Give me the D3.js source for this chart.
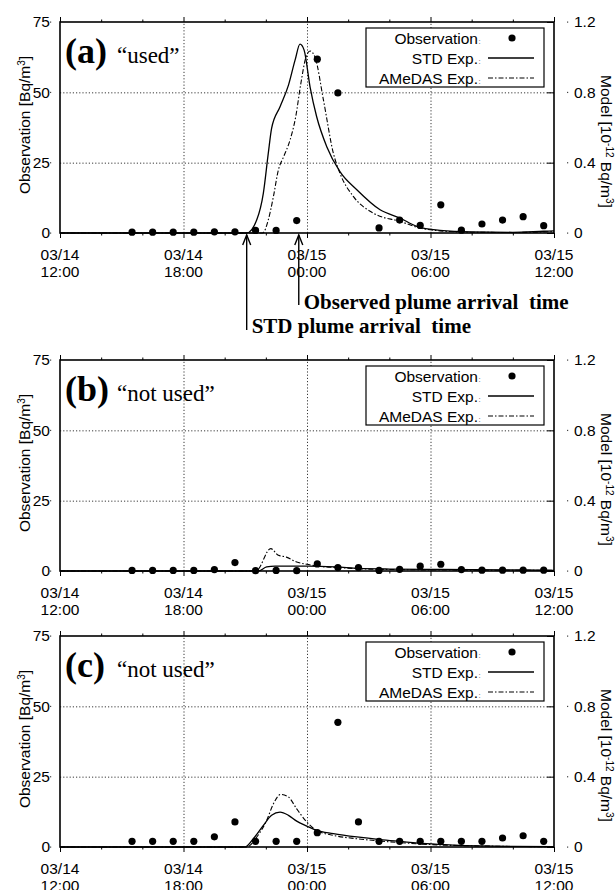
<!DOCTYPE html>
<html>
<head>
<meta charset="utf-8">
<script src="https://cdn.jsdelivr.net/npm/d3@7"></script>
<style>
  body { margin: 0; background: #fff; }
</style>
</head>
<body>
<svg id="chart" width="616" height="890"></svg>
<script>
// hours after 03/14 12:00
var obsHours = [3.5, 4.5, 5.5, 6.5, 7.5, 8.5, 9.5, 10.5, 11.5, 12.5, 13.5, 14.5, 15.5, 16.5, 17.5, 18.5, 19.5, 20.5, 21.5, 22.5, 23.5];

// observations [Bq/m3], null = missing
var obsA = [0.3, 0.3, 0.3, 0.3, 0.4, 0.4, 0.9, 0.9, 4.4, 61.8, 49.8, null, 1.8, 4.6, 2.7, 10.0, 1.0, 3.2, 4.6, 5.8, 2.6];
var obsB = [0.2, 0.2, 0.2, 0.2, 0.5, 3.0, 0.1, 0.2, 0.1, 2.5, 1.2, 1.2, 0.2, 0.6, 1.7, 2.4, 0.5, 0.3, 0.3, 0.3, 0.3];
var obsC = [2.0, 2.0, 2.0, 2.0, 3.6, 8.9, 2.0, 2.0, 2.0, 5.1, 44.3, 8.9, 2.0, 2.0, 2.0, 2.0, 2.0, 2.0, 3.2, 4.0, 2.0];

// model [1e-12 Bq/m3] as [hour, value]
var stdA = [[0, 0], [9.07, 0], [9.56, 0.075], [9.88, 0.227], [10.12, 0.454], [10.28, 0.595], [10.69, 0.718], [11.1, 0.841], [11.42, 0.983], [11.66, 1.074], [11.86, 1.04], [12.15, 0.83], [12.47, 0.661], [12.96, 0.491], [13.6, 0.349], [14.42, 0.246], [15.55, 0.132], [16.52, 0.085], [17.33, 0.038], [18.46, 0.015], [20, 0.006], [22, 0.004], [23.5, 0.01], [24, 0.012]];
var amA = [[0, 0], [9.85, 0], [10.12, 0.075], [10.37, 0.208], [10.61, 0.359], [10.85, 0.43], [11.18, 0.53], [11.45, 0.66], [11.7, 0.85], [11.95, 1.0], [12.15, 1.035], [12.39, 1.0], [12.8, 0.756], [13.28, 0.454], [13.6, 0.34], [14.25, 0.208], [15.22, 0.113], [16.52, 0.066], [17.5, 0.028], [18.46, 0.012], [20, 0.004], [22, 0.003], [24, 0.008]];
var stdB = [[0, 0], [9.63, 0], [10.04, 0.023], [10.45, 0.028], [12.1, 0.028], [13.4, 0.023], [14.5, 0.015], [16, 0.011], [18.5, 0.009], [20, 0.008], [24, 0.004]];
var amB = [[0, 0], [9.52, 0], [10.24, 0.127], [10.61, 0.089], [11.0, 0.079], [11.5, 0.051], [11.99, 0.038], [12.63, 0.026], [13.6, 0.019], [14.9, 0.011], [16.5, 0.008], [18, 0.006], [20, 0.005], [24, 0.004]];
var stdC = [[0, 0], [8.99, 0], [9.39, 0.047], [9.88, 0.123], [10.28, 0.18], [10.69, 0.198], [11.1, 0.18], [11.5, 0.147], [11.99, 0.119], [12.47, 0.094], [13.28, 0.076], [14.42, 0.057], [15.55, 0.042], [16.5, 0.032], [17.8, 0.019], [19.1, 0.011], [20.4, 0.006], [22, 0.003], [24, 0.002]];
var amC = [[0, 0], [9.07, 0], [9.56, 0.057], [10.04, 0.151], [10.37, 0.246], [10.72, 0.299], [11.1, 0.284], [11.5, 0.217], [11.99, 0.142], [12.47, 0.094], [13.28, 0.066], [14.42, 0.047], [15.55, 0.034], [16.5, 0.025], [17.8, 0.015], [19.1, 0.009], [20.4, 0.006], [22, 0.003], [24, 0.002]];

var xTickHours = [0, 6, 12, 18, 24];
var xTickDates = ["03/14", "03/14", "03/15", "03/15", "03/15"];
var xTickTimes = ["12:00", "18:00", "00:00", "06:00", "12:00"];
var xMinorHours = [2, 4, 8, 10, 14, 16, 20, 22];
var gridHours = [6, 12, 18];
var obsTicks = [0, 25, 50, 75];
var obsGrid = [25, 50];
var modelTicks = [0, 0.4, 0.8, 1.2];

var panelLetters = ["(a)", "(b)", "(c)"];
var panelNotes = ["\u201cused\u201d", "\u201cnot used\u201d", "\u201cnot used\u201d"];
var legendLabels = ["Observation", "STD Exp.", "AMeDAS Exp."];
var arrivalHours = [9.07, 11.6];
var arrivalLabels = ["STD plume arrival  time", "Observed plume arrival  time"];

var SANS = "Liberation Sans, Arial, Helvetica, sans-serif";
var SERIF = "Liberation Serif, Times New Roman, serif";

var svg = d3.select("#chart");
svg.append("rect").attr("width", 616).attr("height", 890).attr("fill", "#fff");

var left = 60, right = 554, ph = 211;
var tops = [22, 360, 636];

var x = d3.scaleLinear().domain([0, 24]).range([left, right]);

function drawPanel(i, obs, std, am) {
  var top = tops[i], bottom = top + ph;
  var yObs = d3.scaleLinear().domain([0, 75]).range([bottom, top]);
  var yMod = d3.scaleLinear().domain([0, 1.2]).range([bottom, top]);
  var g = svg.append("g");

  // dotted grid
  var gx = g.append("g")
    .attr("transform", "translate(0," + bottom + ")")
    .call(d3.axisBottom(x).tickValues(gridHours).tickSize(-ph).tickFormat(""));
  gx.select(".domain").remove();
  gx.selectAll("line").attr("stroke", "#222").attr("stroke-width", 0.9).attr("stroke-dasharray", "1.2,2");

  var gy = g.append("g")
    .attr("transform", "translate(" + left + ",0)")
    .call(d3.axisLeft(yObs).tickValues(obsGrid).tickSize(-(right - left)).tickFormat(""));
  gy.select(".domain").remove();
  gy.selectAll("line").attr("stroke", "#222").attr("stroke-width", 0.9).attr("stroke-dasharray", "1.2,2");

  // model curves
  var line = d3.line()
    .x(function(d) { return x(d[0]); })
    .y(function(d) { return yMod(d[1]); })
    .curve(d3.curveMonotoneX);

  g.append("path").datum(am)
    .attr("d", line).attr("fill", "none").attr("stroke", "#000")
    .attr("stroke-width", 1.1).attr("stroke-dasharray", "5,2,1.5,2");
  g.append("path").datum(std)
    .attr("d", line).attr("fill", "none").attr("stroke", "#000")
    .attr("stroke-width", 1.3);

  // observations
  var pts = obsHours.map(function(h, j) { return [h, obs[j]]; })
    .filter(function(d) { return d[1] !== null; });
  g.selectAll(".obs").data(pts).enter().append("circle")
    .attr("class", "obs")
    .attr("cx", function(d) { return x(d[0]); })
    .attr("cy", function(d) { return yObs(d[1]); })
    .attr("r", 3.6).attr("fill", "#000");

  // frame
  g.append("rect")
    .attr("x", left).attr("y", top).attr("width", right - left).attr("height", ph)
    .attr("fill", "none").attr("stroke", "#000").attr("stroke-width", 1.6);

  // x ticks, outward
  [[d3.axisBottom, bottom], [d3.axisTop, top]].forEach(function(a) {
    var maj = g.append("g").attr("transform", "translate(0," + a[1] + ")")
      .call(a[0](x).tickValues(xTickHours).tickSize(5).tickFormat(""));
    maj.select(".domain").remove();
    var mnr = g.append("g").attr("transform", "translate(0," + a[1] + ")")
      .call(a[0](x).tickValues(xMinorHours).tickSize(2.5).tickFormat(""));
    mnr.select(".domain").remove();
  });

  var xl = g.selectAll(".xlab").data(xTickHours).enter().append("text")
    .attr("class", "xlab")
    .attr("text-anchor", "middle")
    .attr("font-family", SANS).attr("font-size", 15.5);
  xl.append("tspan").attr("x", function(d) { return x(d); }).attr("y", bottom + 27)
    .text(function(d, j) { return xTickDates[j]; });
  xl.append("tspan").attr("x", function(d) { return x(d); }).attr("y", bottom + 44)
    .text(function(d, j) { return xTickTimes[j]; });

  // left axis labels
  var la = g.append("g").attr("transform", "translate(" + left + ",0)")
    .call(d3.axisLeft(yObs).tickValues(obsTicks).tickSize(0).tickPadding(10));
  la.select(".domain").remove();
  la.attr("font-family", SANS).attr("font-size", 15.5);
  la.selectAll("text").attr("fill", "#000");
  g.selectAll(".ldot").data(obsTicks).enter().append("rect")
    .attr("x", left - 10).attr("y", function(d) { return yObs(d) - 0.5; })
    .attr("width", 1.2).attr("height", 1.2).attr("fill", "#444");

  // right axis
  var ra = g.append("g").attr("transform", "translate(" + right + ",0)")
    .call(d3.axisRight(yMod).tickValues(modelTicks).tickSize(-7).tickPadding(20)
      .tickFormat(function(d) { return d === 0 ? "0" : d3.format(".1f")(d); }));
  ra.select(".domain").remove();
  ra.attr("font-family", SANS).attr("font-size", 15.5);
  ra.selectAll("text").attr("fill", "#000");
  g.selectAll(".rdot").data(modelTicks).enter().append("rect")
    .attr("x", right + 13).attr("y", function(d) { return yMod(d) - 0.5; })
    .attr("width", 1.2).attr("height", 1.2).attr("fill", "#444");

  // axis titles
  var lt = g.append("text")
    .attr("transform", "translate(30," + (top + 103) + ") rotate(-90)")
    .attr("text-anchor", "middle")
    .attr("font-family", SANS).attr("font-size", 15.5);
  lt.append("tspan").text("Observation [Bq/m");
  lt.append("tspan").attr("baseline-shift", "super").attr("font-size", 10).text("3");
  lt.append("tspan").text("]");

  var rt = g.append("text")
    .attr("transform", "translate(601," + (top + 53) + ") rotate(90)")
    .attr("font-family", SANS).attr("font-size", 15.5);
  rt.append("tspan").text("Model [10");
  rt.append("tspan").attr("baseline-shift", "super").attr("font-size", 10).text("-12");
  rt.append("tspan").text(" Bq/m");
  rt.append("tspan").attr("baseline-shift", "super").attr("font-size", 10).text("3");
  rt.append("tspan").text("]");

  // panel label
  g.append("text").attr("x", 65).attr("y", top + 41)
    .attr("font-family", SERIF).attr("font-weight", "bold").attr("font-size", 36)
    .text(panelLetters[i]);
  g.append("text").attr("x", 117).attr("y", top + 41)
    .attr("font-family", SERIF).attr("font-size", 23)
    .text(panelNotes[i]);

  // legend
  var lg = g.append("g");
  lg.append("rect").attr("x", 366).attr("y", top + 6).attr("width", 178).attr("height", 59)
    .attr("fill", "#fff").attr("stroke", "#000").attr("stroke-width", 1.2);
  legendLabels.forEach(function(lab, k) {
    var cy = top + 16 + k * 20;
    var t = lg.append("text").attr("x", 478).attr("y", cy + 5.5).attr("text-anchor", "end")
      .attr("font-family", SANS).attr("font-size", 15.5).text(lab);
    lg.append("text").attr("x", 478.5).attr("y", cy + 5.5)
      .attr("font-family", SANS).attr("font-size", 8).attr("fill", "#555").text(":");
    if (k === 0) {
      lg.append("circle").attr("cx", 512).attr("cy", cy).attr("r", 3.6).attr("fill", "#000");
    } else {
      lg.append("line").attr("x1", 488).attr("x2", 534).attr("y1", cy).attr("y2", cy)
        .attr("stroke", "#000").attr("stroke-width", k === 1 ? 1.3 : 1.1)
        .attr("stroke-dasharray", k === 1 ? null : "5,2,1.5,2");
    }
  });
}

drawPanel(0, obsA, stdA, amA);
drawPanel(1, obsB, stdB, amB);
drawPanel(2, obsC, stdC, amC);

// arrival arrows under panel (a)
var tailY = [330, 305], textY = [333, 309], tipY = tops[0] + ph + 2;
arrivalHours.forEach(function(h, k) {
  var ax = x(h);
  svg.append("line").attr("x1", ax).attr("x2", ax).attr("y1", tailY[k]).attr("y2", tipY)
    .attr("stroke", "#000").attr("stroke-width", 1.4);
  svg.append("path")
    .attr("d", "M" + (ax - 4) + "," + (tipY + 10) + "L" + ax + "," + tipY + "L" + (ax + 4) + "," + (tipY + 10))
    .attr("fill", "none").attr("stroke", "#000").attr("stroke-width", 1.4);
  svg.append("text").attr("x", ax + 5).attr("y", textY[k])
    .attr("font-family", SERIF).attr("font-weight", "bold").attr("font-size", 21)
    .style("white-space", "pre")
    .text(arrivalLabels[k]);
});
</script>
</body>
</html>
